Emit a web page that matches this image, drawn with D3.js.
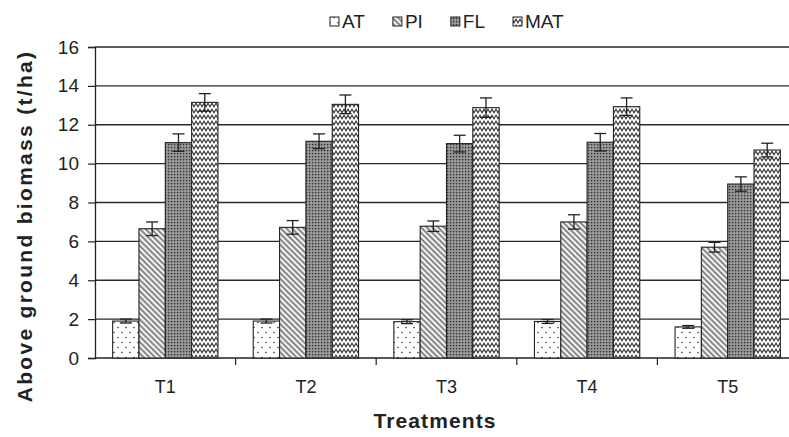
<!DOCTYPE html>
<html><head><meta charset="utf-8">
<script src="https://cdn.jsdelivr.net/npm/d3@7"></script>
<style>
html,body{margin:0;padding:0;background:#fff;}
svg{display:block;font-family:"Liberation Sans",Arial,sans-serif;}
</style></head>
<body>
<svg id="chart" width="789" height="437"></svg>
<script>
const categories = ["T1","T2","T3","T4","T5"];
const seriesNames = ["AT","PI","FL","MAT"];
const AT  = [1.90, 1.90, 1.87, 1.88, 1.60];
const PI  = [6.65, 6.72, 6.78, 7.00, 5.70];
const FL  = [11.08, 11.15, 11.03, 11.10, 8.95];
const MAT = [13.15, 13.05, 12.88, 12.93, 10.70];
const AT_err  = [0.10, 0.10, 0.10, 0.10, 0.07];
const PI_err  = [0.35, 0.35, 0.27, 0.37, 0.25];
const FL_err  = [0.45, 0.38, 0.43, 0.45, 0.37];
const MAT_err = [0.45, 0.48, 0.50, 0.45, 0.35];
const yTicks = [0,2,4,6,8,10,12,14,16];
const yTitle = "Above ground biomass (t/ha)";
const xTitle = "Treatments";

const values = {AT, PI, FL, MAT};
const errors = {AT: AT_err, PI: PI_err, FL: FL_err, MAT: MAT_err};

const svg = d3.select("#chart");
const defs = svg.append("defs");

// patterns
const pAT = defs.append("pattern").attr("id","pat-AT").attr("patternUnits","userSpaceOnUse").attr("width",8).attr("height",10);
pAT.append("rect").attr("width",8).attr("height",10).attr("fill","#fff");
pAT.append("circle").attr("cx",2).attr("cy",2.5).attr("r",0.8).attr("fill","#333");
pAT.append("circle").attr("cx",6).attr("cy",7.5).attr("r",0.8).attr("fill","#333");

const pPI = defs.append("pattern").attr("id","pat-PI").attr("patternUnits","userSpaceOnUse").attr("width",4).attr("height",4).attr("patternTransform","rotate(-45)");
pPI.append("rect").attr("width",4).attr("height",4).attr("fill","#f2f2f2");
pPI.append("line").attr("x1",1).attr("y1",0).attr("x2",1).attr("y2",4).attr("stroke","#333").attr("stroke-width",1.1);

const pFL = defs.append("pattern").attr("id","pat-FL").attr("patternUnits","userSpaceOnUse").attr("width",3).attr("height",3);
pFL.append("rect").attr("width",3).attr("height",3).attr("fill","#8e8e8e");
pFL.append("rect").attr("width",1.3).attr("height",1.3).attr("fill","#333");
pFL.append("rect").attr("x",1.5).attr("y",1.5).attr("width",1).attr("height",1).attr("fill","#bdbdbd");

const pMAT = defs.append("pattern").attr("id","pat-MAT").attr("patternUnits","userSpaceOnUse").attr("width",8).attr("height",6);
pMAT.append("rect").attr("width",8).attr("height",6).attr("fill","#fff");
pMAT.append("path").attr("d","M-2,4.8 L0,1.2 L2,4.8 L4,1.2 L6,4.8 L8,1.2 L10,4.8").attr("fill","none").attr("stroke","#333").attr("stroke-width",1.1);

const fills = {AT:"url(#pat-AT)", PI:"url(#pat-PI)", FL:"url(#pat-FL)", MAT:"url(#pat-MAT)"};

const plotL = 95, plotR = 798, plotT = 47, plotB = 358;
const x = d3.scaleBand().domain(categories).range([plotL, plotR]).paddingInner(0).paddingOuter(0);
const xs = d3.scaleBand().domain(seriesNames).range([0, x.bandwidth()]).paddingInner(0).paddingOuter(0.67);
const y = d3.scaleLinear().domain([0,16]).range([plotB, plotT]);

// gridlines
svg.append("g").selectAll("line").data(yTicks.filter(d=>d>0)).join("line")
  .attr("x1",plotL).attr("x2",789).attr("y1",d=>y(d)).attr("y2",d=>y(d))
  .attr("stroke","#2a2a2a").attr("stroke-width",1.4);

// y axis
const yAxis = d3.axisLeft(y).tickValues(yTicks).tickSize(7).tickPadding(9).tickFormat(d3.format("d"));
const gy = svg.append("g").attr("transform",`translate(${plotL},0)`).call(yAxis);
gy.select(".domain").attr("stroke","#222").attr("stroke-width",1.3);
gy.selectAll(".tick line").attr("stroke","#222").attr("stroke-width",1.2);
gy.selectAll(".tick text").attr("font-size",19).attr("fill","#222").attr("font-family","Liberation Sans, Arial, sans-serif");

// x axis
const xAxis = d3.axisBottom(x).tickSize(0).tickPadding(22);
const gx = svg.append("g").attr("transform",`translate(0,${plotB})`).call(xAxis);
gx.select(".domain").remove();
gx.selectAll(".tick text").attr("font-size",18).attr("fill","#222").attr("font-family","Liberation Sans, Arial, sans-serif");
svg.append("line").attr("x1",plotL).attr("x2",789).attr("y1",plotB).attr("y2",plotB).attr("stroke","#222").attr("stroke-width",1.3);
svg.append("g").selectAll("line").data(categories.slice(1)).join("line")
  .attr("x1",d=>x(d)).attr("x2",d=>x(d)).attr("y1",plotB).attr("y2",plotB+7)
  .attr("stroke","#222").attr("stroke-width",1.2);

// bars
const rows = [];
categories.forEach((c,i)=>seriesNames.forEach(s=>rows.push({c, s, v: values[s][i], e: errors[s][i]})));
const bars = svg.append("g");
bars.selectAll("rect").data(rows).join("rect")
  .attr("x",d=>x(d.c)+xs(d.s)).attr("width",xs.bandwidth())
  .attr("y",d=>y(d.v)).attr("height",d=>y(0)-y(d.v))
  .attr("fill",d=>fills[d.s]).attr("stroke","#222").attr("stroke-width",1.1);

// error bars
const eg = svg.append("g").attr("stroke","#222").attr("stroke-width",1.3);
rows.forEach(d=>{
  const cx = x(d.c)+xs(d.s)+xs.bandwidth()/2;
  eg.append("line").attr("x1",cx).attr("x2",cx).attr("y1",y(d.v+d.e)).attr("y2",y(d.v-d.e));
  eg.append("line").attr("x1",cx-6).attr("x2",cx+6).attr("y1",y(d.v+d.e)).attr("y2",y(d.v+d.e));
  eg.append("line").attr("x1",cx-6).attr("x2",cx+6).attr("y1",y(d.v-d.e)).attr("y2",y(d.v-d.e));
});

// legend
const lg = svg.append("g");
let lx = 330;
seriesNames.forEach(s=>{
  lg.append("rect").attr("x",lx).attr("y",17).attr("width",9).attr("height",9)
    .attr("fill",fills[s]).attr("stroke","#222").attr("stroke-width",1);
  const t = lg.append("text").attr("x",lx+12).attr("y",27.5).attr("font-size",19).attr("fill","#222").text(s);
  lx += 12 + t.node().getComputedTextLength() + 28;
});

// titles
svg.append("text").attr("transform","translate(32,226) rotate(-90)")
  .attr("text-anchor","middle").attr("font-size",21).attr("font-weight","bold")
  .attr("letter-spacing","2.3px").attr("fill","#222").text(yTitle);
svg.append("text").attr("x",435).attr("y",428)
  .attr("text-anchor","middle").attr("font-size",21).attr("font-weight","bold")
  .attr("letter-spacing","1.1px").attr("fill","#222").text(xTitle);
</script>
</body></html>
